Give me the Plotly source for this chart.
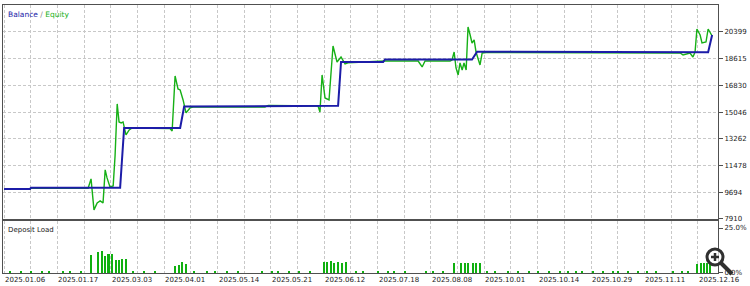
import plotly.graph_objects as go

# ---- data (x = deal index) ----
balance_x = [0, 9.7, 10.1, 43.5, 45.0, 66.0, 67.5, 99.0, 99.4, 125.2, 126.3, 142.1, 142.8,
             175.4, 177.3, 199.8, 200.2, 204.6, 205.0, 218.5, 218.9, 263.9, 265.4]
balance_y = [9913, 9913, 9990, 9990, 13990, 13990, 15420, 15420, 15470, 15470, 18395, 18395, 18560,
             18560, 19080, 19080, 19030, 19030, 19070, 19070, 19050, 19050, 20199]

equity_x = [0, 9.7, 10.1, 31.5, 32.6, 33.7, 34.9, 36.0, 37.1, 37.9, 38.6, 39.7, 40.9, 41.6, 42.4,
            43.1, 43.9, 44.6, 45.7, 46.9, 48.0, 62.2, 63.0, 64.1, 65.2, 66.0, 67.1, 68.2, 69.7,
            71.2, 97.8, 99.0, 117.7, 118.4, 119.2, 120.3, 121.8, 123.3, 124.8, 126.3, 127.8,
            128.9, 142.8, 155.2, 156.7, 157.8, 167.2, 167.9, 168.7, 169.4, 170.2, 170.9, 171.7,
            172.4, 173.2, 173.9, 174.7, 175.4, 176.2, 176.9, 178.4, 179.2, 180.7, 253.4, 254.5,
            257.1, 258.2, 259.0, 259.7, 260.9, 261.6, 263.1, 263.9, 265.0, 265.4]
equity_y = [9880, 9880, 9950, 9950, 10581, 8511, 8978, 9111, 8978, 11181, 10648, 10046, 10113,
            12116, 15590, 14388, 14321, 14388, 13519, 13853, 13987, 13953, 13787, 17460, 16592,
            16525, 15857, 14989, 15323, 15390, 15390, 15490, 15457, 15056, 17527, 15991, 15857,
            19464, 18395, 18729, 18262, 18340, 18460, 18460, 18061, 18460, 18460, 18529, 19063,
            17995, 17527, 18329, 17861, 18329, 17861, 20733, 20199, 19664, 19865, 19063, 18195,
            18996, 19030, 18996, 18863, 18996, 18729, 19063, 20599, 20199, 19664, 19731, 20599,
            20199, 20132]

load_x = [2.2, 6.4, 10.1, 14.2, 16.9, 22.1, 24.7, 28.9,
          32.5, 35.3, 36.6, 37.9, 39.1, 40.4, 42.0, 43.1, 44.3, 45.7,
          48.4, 52.5, 56.6,
          64.1, 65.6, 66.7, 68.2,
          71.2, 76.1, 79.1, 83.6, 87.7, 96.7, 100.4, 102.7, 106.8, 110.6, 114.7,
          119.9, 121.1, 122.6, 123.7, 125.2, 126.7, 128.2,
          131.9, 134.6, 140.2, 143.9, 146.2, 150.3, 158.2, 160.8, 164.5,
          168.7, 171.3, 172.8, 173.9, 175.8, 176.9, 178.4,
          181.0, 184.0, 188.9, 192.7, 196.8, 200.1, 204.3, 208.4, 211.4, 214.4, 216.6,
          220.8, 224.5, 228.3, 230.1, 233.9, 237.6, 241.0, 244.4, 250.7, 254.1, 256.4,
          259.7, 261.2, 262.4, 263.5, 264.7]
load_y = [0.6, 0.6, 0.6, 0.6, 0.6, 0.6, 0.6, 0.6,
          10.2, 11.8, 12.0, 9.6, 10.5, 10.5, 7.2, 7.2, 7.8, 8.0,
          0.6, 0.6, 0.6,
          4.1, 4.4, 6.3, 5.0,
          0.6, 0.6, 0.6, 0.6, 0.6, 0.6, 0.6, 0.6, 0.6, 0.6, 0.6,
          6.0, 6.3, 6.8, 5.6, 6.0, 5.8, 6.0,
          0.6, 0.6, 0.6, 0.6, 0.6, 0.6, 1.2, 0.6, 0.6,
          5.3, 5.3, 5.6, 5.3, 5.4, 5.4, 5.7,
          0.6, 0.6, 0.6, 0.6, 0.6, 0.6, 0.6, 0.6, 0.6, 0.6, 0.6,
          0.6, 0.6, 0.6, 0.6, 0.6, 0.6, 0.6, 1.0, 0.6, 0.6, 0.6,
          5.2, 5.5, 5.5, 5.3, 5.0]

y_ticks = [7910, 9694, 11478, 13262, 15046, 16830, 18615, 20399]
y_tick_text = ["7910", "9694", "11478", "13262", "15046", "16830", "18615", "20399"]
load_ticks = [0, 25]
load_tick_text = ["0.0%", "25.0%"]

date_pos = [0, 20, 40, 60, 80, 100, 120, 140, 160, 180, 200, 220, 240, 260]
date_labels = ["2025.01.06", "2025.01.17", "2025.03.03", "2025.04.01", "2025.05.14",
               "2025.05.21", "2025.06.12", "2025.07.18", "2025.08.08", "2025.10.01",
               "2025.10.14", "2025.10.29", "2025.11.11", "2025.12.16"]

FONT = "DejaVu Sans"
TXT = "#222222"
BLUE = "#1c1ca8"
GREEN = "#16b016"
GRID = "#c8c8c8"
LINE = "#505050"

fig = go.Figure()
fig.add_trace(go.Scatter(x=equity_x, y=equity_y, mode="lines",
                         line=dict(color=GREEN, width=1.4), xaxis="x", yaxis="y",
                         hoverinfo="skip"))
fig.add_trace(go.Scatter(x=balance_x, y=balance_y, mode="lines",
                         line=dict(color=BLUE, width=2), xaxis="x", yaxis="y",
                         hoverinfo="skip"))
fig.add_trace(go.Bar(x=load_x, y=load_y, width=0.85, marker=dict(color="#10b010", line=dict(width=0)),
                     xaxis="x2", yaxis="y2", hoverinfo="skip"))

xr = [-0.4, 267.6]
main_bottom = 0.2015
load_top = 0.194

fig.update_layout(
    width=750, height=286,
    margin=dict(l=3, r=32, t=5, b=13),
    paper_bgcolor="white", plot_bgcolor="white",
    showlegend=False, bargap=0,
    font=dict(family=FONT, size=7, color=TXT),
    xaxis=dict(domain=[0, 1], anchor="y", range=xr, dtick=10, tick0=0,
               showticklabels=False, ticks="", showgrid=True, gridcolor=GRID,
               griddash="3px,2px", gridwidth=1, zeroline=False,
               showline=True, mirror=True, linecolor=LINE, linewidth=1),
    yaxis=dict(domain=[main_bottom, 1], anchor="x", side="right", range=[7900, 22203],
               tickvals=y_ticks, ticktext=y_tick_text, ticks="outside", ticklen=4, tickcolor=LINE,
               showgrid=True, gridcolor=GRID, griddash="3px,2px", zeroline=False,
               showline=True, mirror=True, linecolor=LINE, linewidth=1,
               tickfont=dict(family=FONT, size=7, color=TXT)),
    xaxis2=dict(domain=[0, 1], anchor="y2", range=xr, dtick=10, tick0=0, matches="x",
                showticklabels=False, ticks="", showgrid=True, gridcolor=GRID,
                griddash="3px,2px", zeroline=False,
                showline=True, mirror=True, linecolor=LINE, linewidth=1),
    yaxis2=dict(domain=[0, load_top], anchor="x2", side="right", range=[0, 28.9],
                tickvals=load_ticks, ticktext=load_tick_text, ticks="outside", ticklen=4,
                tickcolor=LINE, showgrid=False, zeroline=False,
                showline=True, mirror=True, linecolor=LINE, linewidth=1,
                tickfont=dict(family=FONT, size=7, color=TXT)),
)

annotations = [
    dict(text=f"<span style='color:{BLUE}'>Balance</span> <span style='color:#888'>/</span> "
              f"<span style='color:{GREEN}'>Equity</span>",
         xref="paper", yref="paper", x=0.004, y=1, xanchor="left", yanchor="top",
         yshift=-3, showarrow=False, font=dict(family=FONT, size=7.5)),
    dict(text="Deposit Load", xref="paper", yref="paper", x=0.004, y=load_top,
         xanchor="left", yanchor="top", yshift=-3, showarrow=False,
         font=dict(family=FONT, size=7, color=TXT)),
]
for p, lab in zip(date_pos, date_labels):
    annotations.append(dict(text=lab, xref="x2", yref="paper", x=p, y=0, xanchor="left",
                            yanchor="top", yshift=-1, xshift=-1, showarrow=False,
                            font=dict(family=FONT, size=7, color=TXT)))
fig.update_layout(annotations=annotations)

# magnifier icon (UI decoration)
def px(xp):
    return (xp - 3) / 715.0

def py(yp):
    return (273 - yp) / 268.0

ICON = "#303030"
shapes = [
    dict(type="circle", xref="paper", yref="paper", x0=px(707), x1=px(723), y0=py(265), y1=py(249),
         line=dict(color=ICON, width=3), fillcolor="rgba(255,255,255,0.7)"),
    dict(type="line", xref="paper", yref="paper", x0=px(711), x1=px(719), y0=py(257), y1=py(257),
         line=dict(color=ICON, width=2.5)),
    dict(type="line", xref="paper", yref="paper", x0=px(715), x1=px(715), y0=py(253), y1=py(261),
         line=dict(color=ICON, width=2.5)),
    dict(type="line", xref="paper", yref="paper", x0=px(721), x1=px(732), y0=py(263), y1=py(274),
         line=dict(color=ICON, width=4)),
]
fig.update_layout(shapes=shapes)

fig.write_html("out.html")
